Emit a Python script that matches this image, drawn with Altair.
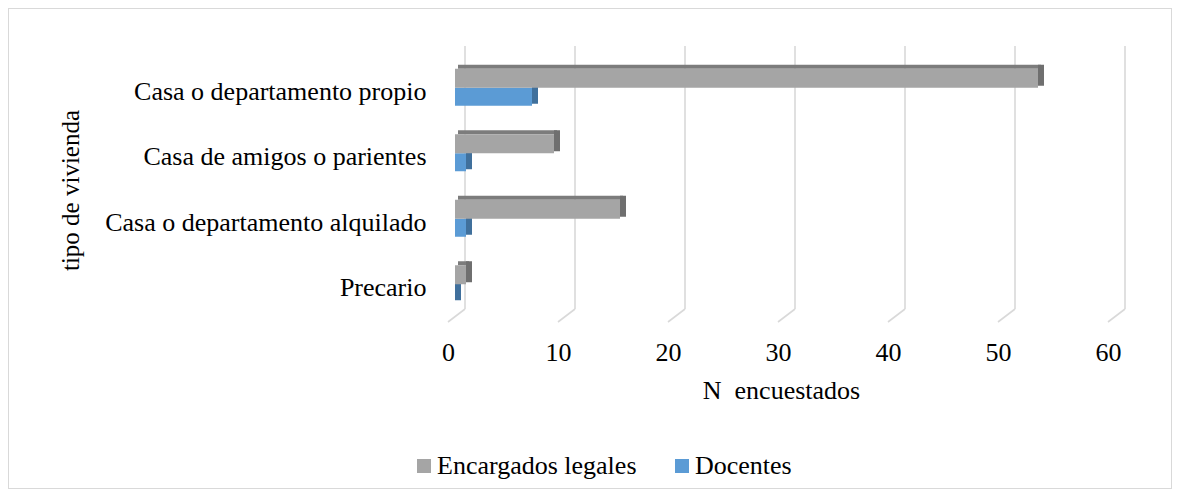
import altair as alt
import pandas as pd

categorias = ["Casa o departamento propio", "Casa de amigos o parientes",
              "Casa o departamento alquilado", "Precario"]
series = ["Encargados legales", "Docentes"]
encargados = [53, 9, 15, 1]
docentes = [7, 1, 1, 0]
ticks = [0, 10, 20, 30, 40, 50, 60]

FONT = "Liberation Serif"
GRAY, GRAY_TOP, GRAY_SIDE = "#A5A5A5", "#7C7C7C", "#6F6F6F"
BLUE, BLUE_SIDE = "#5B9BD5", "#40709C"

rows = []
for c, e, d in zip(categorias, encargados, docentes):
    rows.append({"categoria": c, "serie": series[0], "valor": e, "cero": 0})
    rows.append({"categoria": c, "serie": series[1], "valor": d, "cero": 0})
df = pd.DataFrame(rows)
df_ticks = pd.DataFrame({"tick": ticks})

xscale = alt.Scale(domain=[0, 60], nice=False, zero=True)
xaxis = alt.Axis(values=ticks, domain=False, ticks=False, grid=False,
                 labelFlush=False, labelOffset=-7, labelPadding=35,
                 labelBaseline="middle", labelFontSize=26, labelFont=FONT,
                 labelColor="black", title="N\u00a0\u00a0encuestados",
                 titleX=326, titleY=73, titleBaseline="middle",
                 titleFontSize=26, titleFont=FONT, titleColor="black",
                 titleFontWeight="normal")
yenc = alt.Y("categoria:N", sort=categorias,
             scale=alt.Scale(paddingInner=0, paddingOuter=0),
             axis=alt.Axis(title="tipo de vivienda", domain=False, ticks=False,
                           grid=False, labelPadding=29, labelFontSize=26,
                           labelFont=FONT, labelColor="black", labelOffset=4,
                           labelLimit=0,
                           titleX=-385, titleY=135, titleAngle=270,
                           titleBaseline="middle", titleAlign="center",
                           titleFontSize=25, titleFont=FONT, titleColor="black",
                           titleFontWeight="normal"))

def X(field):
    return alt.X(f"{field}:Q", scale=xscale, axis=xaxis)

base = alt.Chart(df)
gris = base.transform_filter(alt.datum.serie == series[0])
azul = base.transform_filter(alt.datum.serie == series[1])

grid_v = alt.Chart(df_ticks).mark_rule(color="#D9D9D9", strokeWidth=1.6, xOffset=10).encode(
    x=X("tick"), y=alt.value(-9), y2=alt.value(254))
grid_s = alt.Chart(df_ticks).mark_rule(color="#D9D9D9", strokeWidth=1.6,
                                       xOffset=10, x2Offset=-7).encode(
    x=X("tick"), x2="tick:Q", y=alt.value(254), y2=alt.value(267))

blue_side = azul.mark_bar(color=BLUE_SIDE, height=19, yOffset=6.5, x2Offset=6).encode(
    x=X("valor"), x2="valor:Q", y=yenc)
color = alt.Color("serie:N", scale=alt.Scale(domain=series, range=[GRAY, BLUE]),
                  legend=alt.Legend(title=None, orient="none", legendX=-44, legendY=398,
                                    direction="horizontal", symbolType="square",
                                    symbolSize=196, symbolStrokeWidth=0,
                                    labelFontSize=26, labelFont=FONT, labelLimit=0,
                                    labelColor="black", labelOffset=0,
                                    columnPadding=32, symbolOpacity=1))
blue_front = azul.mark_bar(height=18, yOffset=9).encode(
    x=X("cero"), x2="valor:Q", y=yenc, color=color)
gray_top = gris.mark_bar(color=GRAY_TOP, height=4, yOffset=-21, xOffset=3, x2Offset=3).encode(
    x=X("cero"), x2="valor:Q", y=yenc)
gray_side = gris.mark_bar(color=GRAY_SIDE, height=21, yOffset=-12.5, x2Offset=6).encode(
    x=X("valor"), x2="valor:Q", y=yenc)
gray_front = gris.mark_bar(height=19, yOffset=-9.5).encode(
    x=X("cero"), x2="valor:Q", y=yenc, color=color)

border = alt.Chart(df_ticks).mark_rect(fill=None, stroke="#D9D9D9", strokeWidth=1).encode(
    x=alt.value(-446.5), x2=alt.value(716.5), y=alt.value(-46.5), y2=alt.value(433.5))

chart = alt.layer(border, grid_v, grid_s, blue_side, blue_front,
                  gray_top, gray_side, gray_front).properties(
    width=660, height=262,
    padding={"left": 447, "top": 47, "right": 57, "bottom": 172},
    autosize=alt.AutoSizeParams(type="none"),
).configure_view(stroke=None)

chart.save("out.html", embed_options={"renderer": "svg", "actions": False})
